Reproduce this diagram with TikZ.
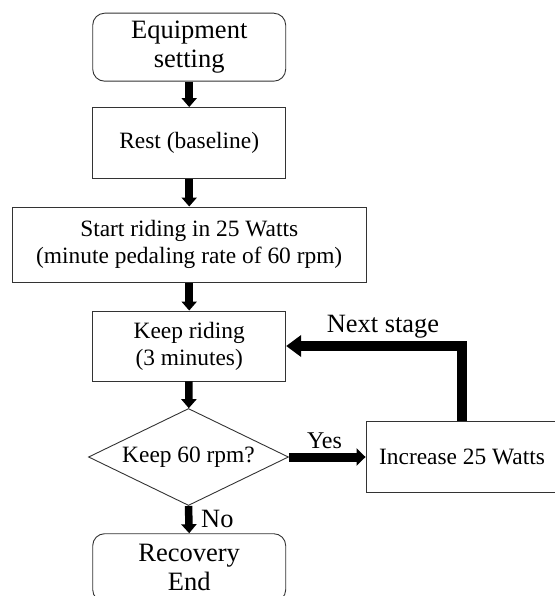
\documentclass[tikz,border=0pt]{standalone}
\usepackage{fontspec}
\setmainfont{Liberation Serif}
\usetikzlibrary{arrows.meta,shapes.geometric}
\definecolor{edge}{HTML}{333333}
\tikzset{
  box/.style={draw=edge,line width=0.9pt,fill=white,align=center,inner sep=0pt,
    font=\fontsize{23.4}{27}\selectfont},
  rbox/.style={box,rounded corners=12pt,font=\fontsize{26.5}{29}\selectfont},
  decision/.style={draw=edge,line width=0.9pt,shape=diamond,aspect=2.06,inner sep=0pt,
    font=\fontsize{23.4}{27}\selectfont},
  flow/.style={line width=7.5pt,-{Triangle[width=15pt,length=9pt]}},
  loopflow/.style={line width=10pt,-{Triangle[width=21pt,length=15pt]}},
  yesflow/.style={line width=9pt,-{Triangle[width=17pt,length=9pt]}},
  lbl/.style={inner sep=0pt,anchor=base,font=\fontsize{26.4}{29}\selectfont}
}
\begin{document}
\begin{tikzpicture}[x=1pt,y=-1pt]
\useasboundingbox (0,0) rectangle (554,596);
\node[rbox,minimum width=193pt,minimum height=68pt] (eq) at (189.2,47.2) {Equipment\\setting};
\node[box,minimum width=193pt,minimum height=71pt] (rest) at (189.2,143) {Rest (baseline)};
\node[box,minimum width=353.5pt,minimum height=75.5pt] (start) at (189.2,244.7) {Start riding in 25 Watts\\(minute pedaling rate of 60 rpm)};
\node[box,minimum width=193pt,minimum height=70pt] (keep) at (189.2,346) {Keep riding\\(3 minutes)};
\node[decision,minimum width=200pt,minimum height=97pt] (dia) at (188.5,457) {Keep 60 rpm?};
\node[box,minimum width=192pt,minimum height=70.5pt] (inc) at (462,457) {Increase 25 Watts};
\node[rbox,minimum width=193pt,minimum height=68pt] (rec) at (189.2,567.7) {Recovery\\End};
\draw[flow] (eq) -- (rest);
\draw[flow] (rest) -- (start);
\draw[flow] (start) -- (keep);
\draw[flow] (keep) -- (dia);
\draw[flow] (dia.south) -- (rec.north);
\draw[yesflow] (dia.east) -- (inc.west);
\draw[loopflow] (inc.north) |- (keep.east);
\node[lbl] (next) at (383,332) {Next stage};
\node[lbl,font=\fontsize{24}{26}\selectfont] (yes) at (324.5,448) {Yes};
\node[lbl,anchor=base west] (no) at (201,527) {No};
\end{tikzpicture}
\end{document}
